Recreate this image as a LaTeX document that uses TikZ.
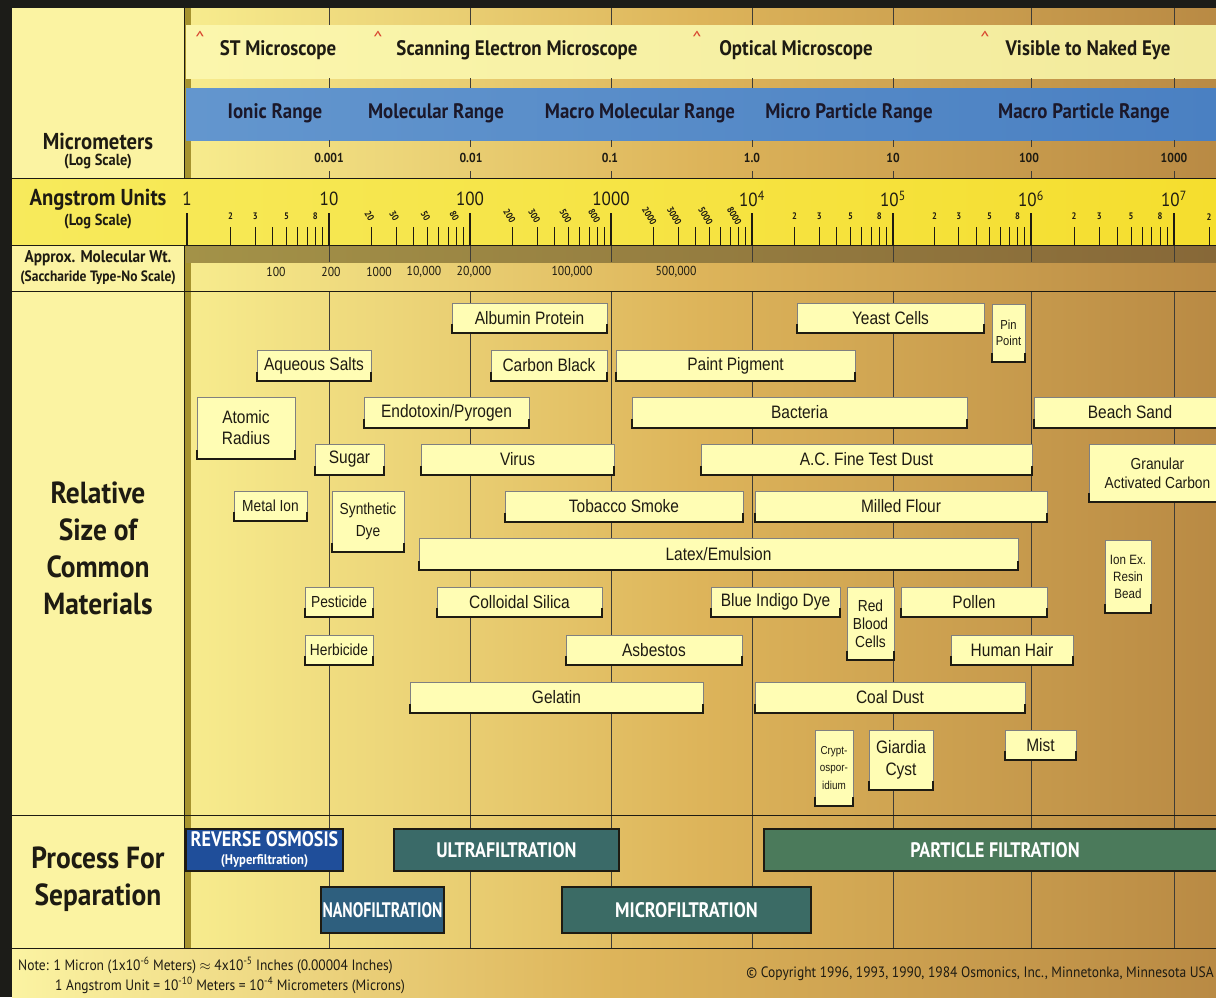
\documentclass[tikz,border=0pt]{standalone}
\usepackage{fontspec}
\setmainfont{PT Sans}
\newfontfamily\gill[FakeStretch=0.9]{PT Sans}
\newfontfamily\gillc[FakeStretch=0.86]{PT Sans}
\newfontfamily\gillcc[FakeStretch=0.75]{PT Sans}
\newfontfamily\angosta[FakeStretch=0.86]{Liberation Sans}

\definecolor{marco}{HTML}{1C1C18}
\definecolor{columna}{HTML}{FBF3A2}
\definecolor{oroizq}{HTML}{F7EC8E}
\definecolor{oromed}{HTML}{DDB45A}
\definecolor{oroder}{HTML}{B98A44}
\definecolor{claroizq}{HTML}{FBF6AC}
\definecolor{claroder}{HTML}{F2EA9C}
\definecolor{azulizq}{HTML}{6396CE}
\definecolor{azulder}{HTML}{4A80C2}
\definecolor{amarizq}{HTML}{F7EA5C}
\definecolor{amarder}{HTML}{F5DE2E}
\definecolor{bandaizq}{HTML}{A39248}
\definecolor{bandader}{HTML}{876838}
\definecolor{oliva}{HTML}{A6932F}
\definecolor{cajaclara}{HTML}{FFFDB4}
\definecolor{tinta}{HTML}{1E1B12}
\definecolor{rojo}{HTML}{D8452E}
\definecolor{ro}{HTML}{1F4E9A}
\definecolor{nf}{HTML}{2E5F7E}
\definecolor{uf}{HTML}{3A6A68}
\definecolor{mf}{HTML}{3B6B65}
\definecolor{pf}{HTML}{4B7A5B}

\tikzset{
  rejilla/.style={draw=tinta!85, line width=0.8pt},
  linea/.style={draw=tinta, line width=1pt},
  mayor/.style={draw=tinta, line width=1.8pt},
  menor/.style={draw=tinta, line width=0.9pt},
  material/.style={draw=black!50, line width=0.5pt, fill=cajaclara, inner sep=0pt, align=center, text=tinta},
  corchete/.style={draw=tinta, line width=2.4pt},
  proceso/.style={draw=tinta, line width=1.6pt, inner sep=0pt, text=white, align=center,
    font=\gillc\bfseries\fontsize{21}{22}\selectfont},
  microscopio/.style={font=\gill\bfseries\fontsize{21}{24}\selectfont, text=tinta, inner sep=0pt},
  rango/.style={font=\gill\bfseries\fontsize{21}{24}\selectfont, text=tinta!90!blue, inner sep=0pt},
  careta/.style={font=\fontsize{20}{20}\selectfont, text=rojo, inner sep=0pt},
  rotulo/.style={font=\gill\bfseries\fontsize{23}{26}\selectfont, text=tinta, inner sep=0pt, align=center},
  rotulosub/.style={font=\gill\bfseries\fontsize{16}{17}\selectfont, text=tinta, inner sep=0pt},
  grande/.style={font=\gill\bfseries\fontsize{30.5}{37}\selectfont, text=tinta, inner sep=0pt, align=center},
  micra/.style={font=\gill\bfseries\fontsize{13}{15}\selectfont, text=tinta, inner sep=0pt},
  decada/.style={font=\gill\fontsize{19}{21}\selectfont, text=tinta, inner sep=0pt},
  digito/.style={font=\gill\bfseries\fontsize{9.5}{11}\selectfont, text=tinta, inner sep=0pt},
  pesomol/.style={font=\gill\fontsize{13}{15}\selectfont, text=tinta, inner sep=0pt},
  nota/.style={font=\gill\fontsize{15}{16}\selectfont, text=tinta, inner sep=0pt},
}

\begin{document}
\begin{tikzpicture}[x=1pt,y=-1pt]
  % Paso 1: Fondo, marco y columna izquierda
  \useasboundingbox (0,0) rectangle (1216,997);
  \fill[marco] (0,0) rectangle (1216,997);
  \shade[left color=oroizq, right color=oroder, middle color=oromed] (186,8) rectangle (1216,948);
  \fill[columna] (12,8) rectangle (184,948);
  \shade[left color=columna, right color=oroder, middle color=oromed] (12,948) rectangle (1216,997);
  \fill[oliva] (184,8) rectangle (191,948);
  \draw[linea] (184,8) -- (184,948);

  % Paso 2: Bandas de microscopios, rangos y escalas
  \shade[left color=claroizq, right color=claroder] (186,25) rectangle (1216,78);
  \shade[left color=azulizq, right color=azulder] (186,88) rectangle (1216,140);
  \shade[left color=amarizq, right color=amarder] (12,178) rectangle (1216,245);
  \shade[left color=bandaizq, right color=bandader] (186,245) rectangle (1216,262);

  % Paso 3: Lineas de la rejilla
  \foreach \x in {329,470,611,752,893,1031,1174}{
    \draw[rejilla] (\x,8) -- (\x,25);
    \draw[rejilla] (\x,78) -- (\x,88);
    \draw[rejilla] (\x,140) -- (\x,147);
    \draw[rejilla] (\x,171) -- (\x,178);
    \draw[rejilla] (\x,245) -- (\x,262);
    \draw[rejilla] (\x,291) -- (\x,948);
  }
  \foreach \y in {178,245,291,815,948}
    \draw[linea] (12,\y) -- (1216,\y);

  % Paso 4: Microscopios y rangos
  \foreach \xc/\xt/\t [count=\k] in {200/278/ST Microscope, 378/517/Scanning Electron Microscope,
      697/796/Optical Microscope, 985/1088/Visible to Naked Eye}{
    \node[careta] (car\k) at (\xc,38) {\textasciicircum};
    \node[microscopio] (mic\k) at (\xt,50) {\t};
  }
  \foreach \x/\t [count=\k] in {275/Ionic Range, 436/Molecular Range, 640/Macro Molecular Range,
      849/Micro Particle Range, 1084/Macro Particle Range}
    \node[rango] (r\k) at (\x,113) {\t};
  \foreach \x/\t [count=\k] in {329/0.001, 471/0.01, 610/0.1, 752/1.0, 893/10, 1029/100, 1174/1000}
    \node[micra] (mu\k) at (\x,158) {\t};

  % Paso 5: Escala de Angstrom
  \foreach \x/\t [count=\k] in {187/1, 329/10, 470/100, 611/1000, 752/{10\textsuperscript{4}},
      893/{10\textsuperscript{5}}, 1031/{10\textsuperscript{6}}, 1174/{10\textsuperscript{7}}}{
    \draw[mayor] (\x,213) -- (\x,245);
    \node[decada] (dec\k) at (\x,199) {\t};
  }
  \foreach \xa/\xb/\suf/\giro/\dx [count=\d] in {188/329/{}/0/0, 329/470/0/-60/-2,
      470/611/00/-60/-3, 611/752/000/-60/-4, 752/893/{}/0/0, 893/1031/{}/0/0, 1031/1174/{}/0/0}{
    \foreach \m in {2,...,9}{
      \pgfmathsetmacro\xt{\xa+(\xb-\xa)*log10(\m)}
      \draw[menor] (\xt,227) -- (\xt,245);
    }
    \foreach \m in {2,3,5,8}{
      \pgfmathsetmacro\xt{\xa+(\xb-\xa)*log10(\m)}
      \node[digito, rotate=\giro] (d\d-\m) at (\xt+\dx,216) {\m\suf};
    }
  }
  \draw[menor] (1209,227) -- (1209,245);
  \node[digito] (d8-2) at (1209,217) {2};

  % Paso 6: Peso molecular
  \foreach \x/\t [count=\k] in {276/100, 331/200, 379/1000, 424/{10,000}, 474/{20,000},
      572/{100,000}, 676/{500,000}}
    \node[pesomol] (pm\k) at (\x,272) {\t};

  % Paso 7: Rotulos de la columna izquierda
  \node[rotulo] (micro) at (98,141) {Micrometers};
  \node[rotulosub] (microlog) at (98,162) {(Log Scale)};
  \node[rotulo] (angs) at (98,200) {Angstrom Units};
  \node[rotulosub] (angslog) at (98,222) {(Log Scale)};
  \node[rotulosub, font=\gill\bfseries\fontsize{17}{18}\selectfont] (peso) at (98,258) {Approx. Molecular Wt.};
  \node[rotulosub, font=\gill\bfseries\fontsize{15}{16}\selectfont] (pesosac) at (98,278) {(Saccharide Type-No Scale)};
  \node[grande] (relativo) at (98,548) {Relative\\Size of\\Common\\Materials};
  \node[grande] (separacion) at (98,879) {Process For\\Separation};

  % Paso 8: Materiales comunes
  \foreach \id/\xa/\xb/\ya/\yb/\tam/\ld/\txt in {
      albumina/452/607/303/333/18/20/{Albumin Protein},
      levadura/797/984/303/333/18/20/{Yeast Cells},
      alfiler/992/1025/304/362/13/16/{Pin\\Point},
      sales/257/371/350/381/18/20/{Aqueous Salts},
      carbon/491/607/350/381/18/20/{Carbon Black},
      pintura/616/855/350/381/18/20/{Paint Pigment},
      atomico/197/295/397/459/18/21/{Atomic\\Radius},
      endotoxina/364/529/397/428/18/20/{Endotoxin/Pyrogen},
      bacteria/632/967/397/428/18/20/{Bacteria},
      arena/1034/1226/397/428/18/20/{Beach Sand},
      azucar/315/384/444/475/18/20/{Sugar},
      virus/421/614/444/475/18/20/{Virus},
      polvo/701/1032/444/475/18/20/{A.C. Fine Test Dust},
      granular/1089/1226/444/502/16/19/{Granular\\Activated Carbon},
      metal/234/307/491/521/16/18/{Metal Ion},
      tinte/332/404/491/552/16/22/{Synthetic\\Dye},
      tabaco/505/743/491/522/18/20/{Tobacco Smoke},
      harina/755/1047/491/522/18/20/{Milled Flour},
      latex/419/1018/538/570/18/20/{Latex/Emulsion},
      resina/1105/1151/540/613/13.5/17/{Ion Ex.\\Resin\\Bead},
      pesticida/305/373/587/617/16/18/{Pesticide},
      silice/437/602/587/617/18/20/{Colloidal Silica},
      indigo/711/840/587/617/18/20/{Blue Indigo Dye},
      sangre/847/894/587/660/16/18/{Red\\Blood\\Cells},
      polen/901/1047/587/617/18/20/{Pollen},
      herbicida/305/373/635/665/16/18/{Herbicide},
      asbesto/566/742/635/665/18/20/{Asbestos},
      cabello/951/1073/635/665/18/20/{Human Hair},
      gelatina/410/703/682/713/18/20/{Gelatin},
      hulla/755/1025/682/713/18/20/{Coal Dust},
      cripto/815/853/730/806/11.5/17.5/{Crypt-\\ospor-\\idium},
      giardia/869/933/730/790/18/22/{Giardia\\Cyst},
      niebla/1005/1076/730/760/18/20/{Mist}}{
    \pgfmathsetmacro\ancho{\xb-\xa}
    \pgfmathsetmacro\alto{\yb-\ya}
    \node[material, minimum width=\ancho pt, minimum height=\alto pt,
      font=\angosta\fontsize{\tam}{\ld}\selectfont] (\id) at ({(\xa+\xb)/2},{(\ya+\yb)/2}) {\txt};
    \draw[corchete] ([yshift=9pt]\id.south west) -- (\id.south west)
      -- (\id.south east) -- ([yshift=9pt]\id.south east);
  }

  % Paso 9: Procesos de separacion
  \node[proceso, fill=ro, minimum width=157pt, minimum height=42pt] (osmosis) at (264.5,850)
    {REVERSE OSMOSIS\\[-4pt]{\gill\fontsize{14}{15}\selectfont (Hyperfiltration)}};
  \node[proceso, fill=uf, minimum width=225pt, minimum height=42pt] (ultra) at (506.5,850) {ULTRAFILTRATION};
  \node[proceso, fill=pf, minimum width=462pt, minimum height=42pt] (particula) at (995,850) {PARTICLE FILTRATION};
  \node[proceso, fill=nf, minimum width=123pt, minimum height=46pt,
    font=\gillcc\bfseries\fontsize{21}{22}\selectfont] (nano) at (382.5,910) {NANOFILTRATION};
  \node[proceso, fill=mf, minimum width=249pt, minimum height=46pt] (microf) at (686.5,910) {MICROFILTRATION};

  % Paso 10: Notas al pie
  \node[nota, anchor=base west] (nota1) at (18,970)
    {Note: 1 Micron (1x10\textsuperscript{-6} Meters) $\approx$ 4x10\textsuperscript{-5} Inches (0.00004 Inches)};
  \node[nota, anchor=base west] (nota2) at (55,990)
    {1 Angstrom Unit = 10\textsuperscript{-10} Meters = 10\textsuperscript{-4} Micrometers (Microns)};
  \node[nota, anchor=base east] (derechos) at (1214,977)
    {© Copyright 1996, 1993, 1990, 1984 Osmonics, Inc., Minnetonka, Minnesota USA};
\end{tikzpicture}
\end{document}
